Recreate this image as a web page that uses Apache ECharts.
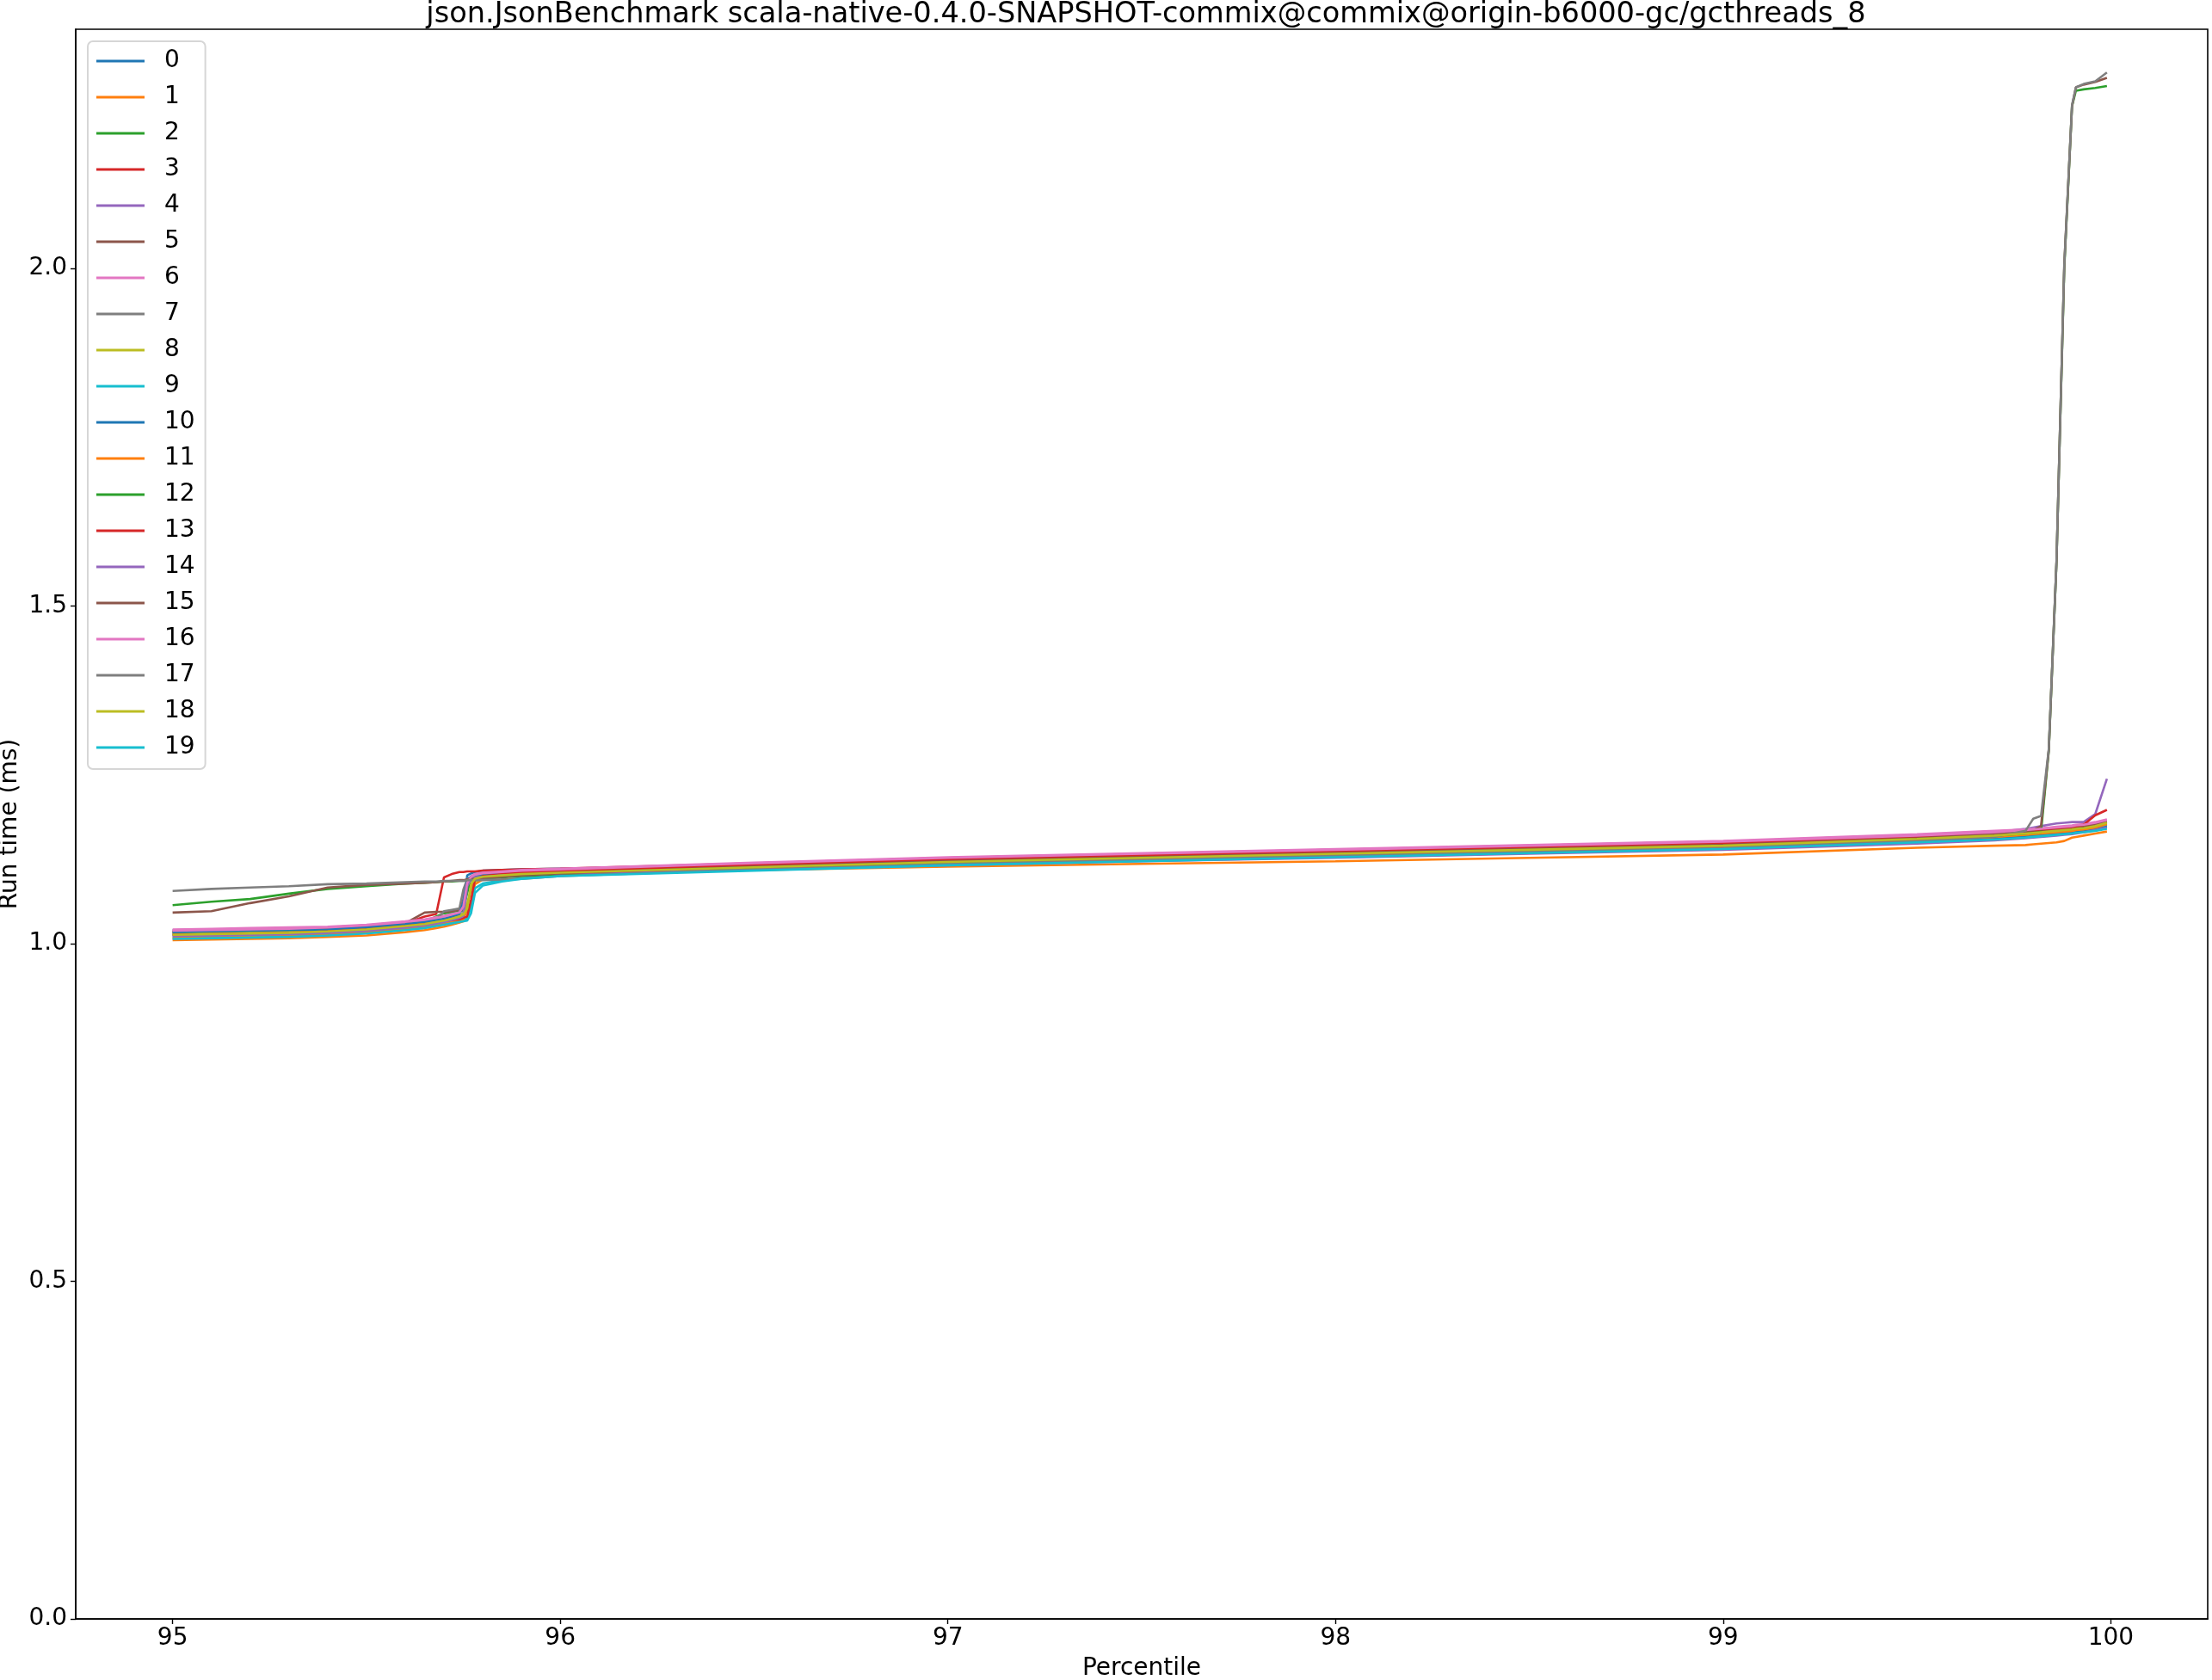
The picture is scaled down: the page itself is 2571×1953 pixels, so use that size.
<!DOCTYPE html>
<html>
<head>
    <meta charset="utf-8">
    <title>json.JsonBenchmark percentiles</title>
    <script src="https://cdn.jsdelivr.net/npm/echarts@6/dist/echarts.min.js"></script>
    <style>
        html, body { margin: 0; padding: 0; background: #ffffff; }
        #main { width: 2571px; height: 1953px; }
    </style>
</head>
<body>
<div id="main"></div>
<script>
    // percentile positions (x) shared by every run
    var pct = [95.0, 95.1, 95.2, 95.3, 95.4, 95.5, 95.6, 95.65, 95.68, 95.7, 95.72, 95.74, 95.75, 95.76, 95.77, 95.78,
        95.8, 95.85, 95.9, 96.0, 96.5, 97.0, 97.5, 98.0, 98.5, 99.0, 99.5,
        99.7, 99.78, 99.8, 99.82, 99.84, 99.86, 99.88, 99.9, 99.91, 99.93, 99.96, 99.99];

    // run time (ms) of each run
    var run0 = [1.020, 1.021, 1.022, 1.023, 1.024, 1.027, 1.032, 1.035, 1.038, 1.040, 1.043, 1.047, 1.049, 1.101, 1.104, 1.106,
        1.108, 1.109, 1.110, 1.111, 1.116, 1.123, 1.130, 1.136, 1.142, 1.148, 1.157,
        1.162, 1.165, 1.166, 1.167, 1.168, 1.169, 1.170, 1.171, 1.172, 1.173, 1.176, 1.180];
    var run1 = [1.005, 1.006, 1.007, 1.008, 1.010, 1.012, 1.017, 1.020, 1.023, 1.025, 1.028, 1.031, 1.033, 1.036, 1.060, 1.088,
        1.095, 1.099, 1.101, 1.103, 1.109, 1.114, 1.118, 1.122, 1.127, 1.132, 1.142,
        1.145, 1.146, 1.147, 1.148, 1.149, 1.150, 1.152, 1.157, 1.158, 1.160, 1.163, 1.166];
    var run2 = [1.016, 1.017, 1.018, 1.019, 1.020, 1.023, 1.028, 1.032, 1.040, 1.045, 1.046, 1.047, 1.050, 1.075, 1.098, 1.100,
        1.102, 1.104, 1.105, 1.107, 1.114, 1.122, 1.128, 1.134, 1.140, 1.146, 1.156,
        1.161, 1.164, 1.165, 1.166, 1.167, 1.168, 1.170, 1.171, 1.171, 1.173, 1.176, 1.180];
    var run3 = [1.018, 1.019, 1.020, 1.021, 1.022, 1.025, 1.030, 1.040, 1.044, 1.098, 1.103, 1.106, 1.106, 1.107, 1.107, 1.107,
        1.108, 1.109, 1.110, 1.111, 1.119, 1.127, 1.133, 1.139, 1.145, 1.151, 1.161,
        1.166, 1.168, 1.169, 1.170, 1.171, 1.172, 1.172, 1.173, 1.173, 1.174, 1.176, 1.180];
    var run4 = [1.014, 1.015, 1.016, 1.017, 1.019, 1.022, 1.027, 1.030, 1.033, 1.035, 1.038, 1.042, 1.045, 1.090, 1.098, 1.100,
        1.101, 1.103, 1.104, 1.106, 1.113, 1.121, 1.127, 1.133, 1.139, 1.146, 1.157,
        1.165, 1.170, 1.172, 1.174, 1.176, 1.178, 1.179, 1.180, 1.180, 1.180, 1.192, 1.244];
    var run5 = [1.017, 1.018, 1.019, 1.020, 1.022, 1.025, 1.030, 1.046, 1.047, 1.047, 1.048, 1.050, 1.065, 1.095, 1.099, 1.101,
        1.102, 1.104, 1.106, 1.107, 1.115, 1.123, 1.129, 1.135, 1.141, 1.147, 1.157,
        1.163, 1.165, 1.166, 1.167, 1.168, 1.169, 1.170, 1.172, 1.172, 1.174, 1.177, 1.181];
    var run6 = [1.021, 1.022, 1.023, 1.024, 1.025, 1.028, 1.033, 1.036, 1.039, 1.041, 1.044, 1.046, 1.060, 1.092, 1.100, 1.103,
        1.105, 1.107, 1.109, 1.111, 1.120, 1.128, 1.134, 1.140, 1.146, 1.152, 1.162,
        1.167, 1.169, 1.170, 1.171, 1.172, 1.173, 1.174, 1.175, 1.176, 1.177, 1.180, 1.184];
    var run7 = [1.012, 1.013, 1.014, 1.015, 1.017, 1.020, 1.025, 1.029, 1.035, 1.048, 1.050, 1.052, 1.080, 1.096, 1.098, 1.099,
        1.100, 1.101, 1.102, 1.103, 1.110, 1.118, 1.124, 1.130, 1.136, 1.142, 1.152,
        1.158, 1.161, 1.162, 1.163, 1.164, 1.165, 1.166, 1.167, 1.168, 1.169, 1.172, 1.176];
    var run8 = [1.015, 1.016, 1.017, 1.018, 1.020, 1.023, 1.028, 1.031, 1.034, 1.036, 1.039, 1.042, 1.045, 1.060, 1.080, 1.092,
        1.097, 1.100, 1.102, 1.104, 1.112, 1.120, 1.126, 1.132, 1.138, 1.144, 1.154,
        1.159, 1.162, 1.163, 1.164, 1.165, 1.166, 1.167, 1.168, 1.169, 1.170, 1.173, 1.178];
    var run9 = [1.009, 1.010, 1.011, 1.012, 1.014, 1.017, 1.022, 1.025, 1.028, 1.030, 1.032, 1.034, 1.035, 1.037, 1.055, 1.082,
        1.089, 1.094, 1.097, 1.101, 1.110, 1.118, 1.124, 1.130, 1.136, 1.142, 1.152,
        1.157, 1.159, 1.160, 1.161, 1.162, 1.163, 1.164, 1.165, 1.166, 1.167, 1.170, 1.174];
    var run10 = [1.017, 1.018, 1.019, 1.020, 1.021, 1.024, 1.029, 1.032, 1.035, 1.037, 1.040, 1.044, 1.062, 1.094, 1.099, 1.101,
        1.102, 1.103, 1.104, 1.105, 1.111, 1.118, 1.123, 1.129, 1.135, 1.141, 1.150,
        1.155, 1.158, 1.159, 1.160, 1.161, 1.162, 1.163, 1.164, 1.165, 1.166, 1.169, 1.173];
    var run11 = [1.008, 1.009, 1.010, 1.011, 1.013, 1.016, 1.021, 1.024, 1.027, 1.029, 1.032, 1.034, 1.036, 1.050, 1.085, 1.095,
        1.098, 1.100, 1.102, 1.104, 1.111, 1.119, 1.125, 1.131, 1.137, 1.143, 1.153,
        1.158, 1.161, 1.162, 1.163, 1.164, 1.165, 1.166, 1.167, 1.168, 1.169, 1.172, 1.177];
    var run12 = [1.057, 1.062, 1.066, 1.074, 1.081, 1.085, 1.089, 1.090, 1.091, 1.092, 1.092, 1.093, 1.093, 1.094, 1.094, 1.095,
        1.096, 1.098, 1.100, 1.103, 1.112, 1.120, 1.126, 1.132, 1.138, 1.144, 1.154,
        1.160, 1.163, 1.164, 1.165, 1.285, 1.565, 2.000, 2.240, 2.263, 2.265, 2.267, 2.270];
    var run13 = [1.013, 1.014, 1.015, 1.016, 1.018, 1.021, 1.026, 1.029, 1.031, 1.033, 1.035, 1.036, 1.038, 1.040, 1.065, 1.095,
        1.100, 1.103, 1.105, 1.108, 1.117, 1.125, 1.131, 1.137, 1.143, 1.149, 1.158,
        1.164, 1.167, 1.168, 1.169, 1.170, 1.171, 1.172, 1.173, 1.174, 1.176, 1.190, 1.198];
    var run14 = [1.011, 1.012, 1.013, 1.014, 1.016, 1.019, 1.024, 1.027, 1.030, 1.032, 1.035, 1.038, 1.041, 1.085, 1.096, 1.098,
        1.099, 1.101, 1.102, 1.104, 1.109, 1.116, 1.122, 1.127, 1.133, 1.139, 1.148,
        1.153, 1.156, 1.157, 1.158, 1.159, 1.160, 1.161, 1.162, 1.163, 1.165, 1.168, 1.172];
    var run15 = [1.046, 1.048, 1.060, 1.070, 1.083, 1.087, 1.089, 1.090, 1.091, 1.092, 1.093, 1.094, 1.094, 1.095, 1.095, 1.096,
        1.097, 1.099, 1.101, 1.104, 1.114, 1.122, 1.128, 1.134, 1.140, 1.146, 1.156,
        1.162, 1.166, 1.168, 1.174, 1.286, 1.567, 2.005, 2.240, 2.268, 2.272, 2.276, 2.282];
    var run16 = [1.019, 1.020, 1.021, 1.022, 1.024, 1.027, 1.032, 1.035, 1.038, 1.040, 1.043, 1.046, 1.055, 1.090, 1.099, 1.102,
        1.104, 1.106, 1.108, 1.110, 1.119, 1.127, 1.133, 1.139, 1.145, 1.151, 1.160,
        1.165, 1.168, 1.169, 1.170, 1.171, 1.172, 1.173, 1.174, 1.175, 1.176, 1.179, 1.183];
    var run17 = [1.078, 1.081, 1.083, 1.085, 1.088, 1.089, 1.091, 1.092, 1.092, 1.093, 1.093, 1.093, 1.093, 1.094, 1.094, 1.094,
        1.094, 1.095, 1.096, 1.100, 1.110, 1.118, 1.125, 1.131, 1.137, 1.143, 1.153,
        1.158, 1.167, 1.185, 1.189, 1.288, 1.567, 2.005, 2.242, 2.268, 2.273, 2.277, 2.290];
    var run18 = [1.013, 1.014, 1.015, 1.016, 1.018, 1.021, 1.026, 1.029, 1.032, 1.034, 1.037, 1.040, 1.043, 1.052, 1.088, 1.096,
        1.099, 1.101, 1.103, 1.105, 1.113, 1.121, 1.127, 1.133, 1.139, 1.145, 1.155,
        1.160, 1.163, 1.164, 1.165, 1.166, 1.167, 1.168, 1.169, 1.170, 1.171, 1.174, 1.179];
    var run19 = [1.007, 1.008, 1.009, 1.010, 1.012, 1.015, 1.020, 1.023, 1.026, 1.028, 1.030, 1.032, 1.033, 1.034, 1.045, 1.075,
        1.086, 1.092, 1.096, 1.100, 1.108, 1.116, 1.122, 1.128, 1.134, 1.140, 1.150,
        1.154, 1.157, 1.158, 1.159, 1.160, 1.161, 1.162, 1.163, 1.164, 1.165, 1.167, 1.170];

    var runs = [run0, run1, run2, run3, run4, run5, run6, run7, run8, run9,
        run10, run11, run12, run13, run14, run15, run16, run17, run18, run19];

    var xTicks = [95, 96, 97, 98, 99, 100];
    var yTicks = [0, 0.5, 1.0, 1.5, 2.0];

    // matplotlib tab10 cycle
    var colors = ['#1f77b4', '#ff7f0e', '#2ca02c', '#d62728', '#9467bd',
        '#8c564b', '#e377c2', '#7f7f7f', '#bcbd22', '#17becf'];

    var font = 'DejaVu Sans';

    var series = [];
    for (var i = 0; i < runs.length; i++) {
        var ys = runs[i];
        series.push({
            name: String(i),
            type: 'line',
            showSymbol: false,
            symbol: 'none',
            data: pct.map(function (p, k) { return [p, ys[k]]; }),
            lineStyle: { width: 2.6, color: colors[i % 10] },
            itemStyle: { color: colors[i % 10] }
        });
    }

    var chart = echarts.init(document.getElementById('main'));
    chart.setOption({
        animation: false,
        backgroundColor: '#ffffff',
        color: colors,
        title: {
            text: 'json.JsonBenchmark scala-native-0.4.0-SNAPSHOT-commix@commix@origin-b6000-gc/gcthreads_8',
            left: 1327,
            textAlign: 'center',
            top: -5,
            textStyle: { fontFamily: font, fontSize: 33.6, fontWeight: 'normal', color: '#000' }
        },
        legend: {
            orient: 'vertical',
            left: 102,
            top: 48,
            padding: [8, 12, 10, 10],
            itemWidth: 56,
            itemHeight: 3,
            itemGap: 12,
            icon: 'rect',
            backgroundColor: '#ffffff',
            borderColor: '#d6d6d6',
            borderWidth: 2,
            borderRadius: 6,
            textStyle: { fontFamily: font, fontSize: 28, lineHeight: 30, color: '#000', padding: [0, 0, 0, 18] },
            data: runs.map(function (r, k) { return String(k); })
        },
        grid: {
            left: 88,
            right: 5,
            top: 34,
            bottom: 71,
            show: true,
            borderColor: '#000',
            borderWidth: 1.6,
            containLabel: false,
            outerBoundsMode: 'none'
        },
        xAxis: {
            type: 'value',
            min: 94.75,
            max: 100.25,
            name: 'Percentile',
            nameLocation: 'middle',
            nameGap: 44,
            nameMoveOverlap: false,
            nameTextStyle: { fontFamily: font, fontSize: 28, color: '#000' },
            splitLine: { show: false },
            axisLine: { show: true, lineStyle: { color: '#000', width: 1.6 } },
            axisTick: { show: true, length: 6, customValues: xTicks, lineStyle: { color: '#000', width: 1.4 } },
            axisLabel: { customValues: xTicks, margin: 9, fontFamily: font, fontSize: 28, color: '#000' }
        },
        yAxis: {
            type: 'value',
            min: 0,
            max: 2.354,
            name: 'Run time (ms)',
            nameLocation: 'middle',
            nameGap: 62,
            nameMoveOverlap: false,
            nameTextStyle: { fontFamily: font, fontSize: 28, color: '#000' },
            splitLine: { show: false },
            axisLine: { show: true, lineStyle: { color: '#000', width: 1.6 } },
            axisTick: { show: true, length: 6, customValues: yTicks, lineStyle: { color: '#000', width: 1.4 } },
            axisLabel: {
                customValues: yTicks, margin: 10, fontFamily: font, fontSize: 28, color: '#000',
                formatter: function (v) { return v.toFixed(1); }
            }
        },
        series: series
    });
</script>
</body>
</html>
